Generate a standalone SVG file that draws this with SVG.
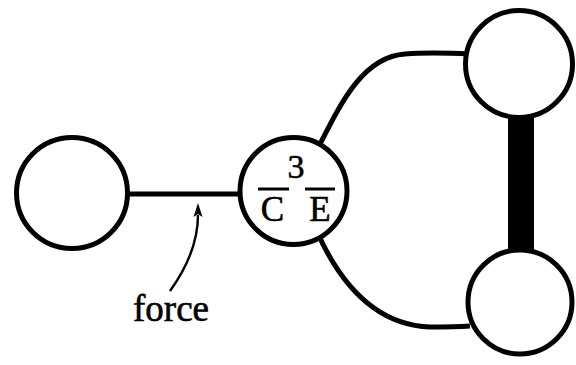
<svg xmlns="http://www.w3.org/2000/svg" width="576" height="365" viewBox="0 0 576 365">
<style>
.n{fill:#fff;stroke:#000;stroke-width:5}
.e{fill:none;stroke:#000;stroke-width:5}
.t{font-family:"Liberation Serif","Times New Roman",serif;fill:#000;stroke:#000;stroke-width:0.6}
.bar{stroke:#000;stroke-width:3}
</style>
<rect width="576" height="365" fill="#fff"/>
<g id="connectors">
<line class="e" x1="120" y1="194" x2="245" y2="194"/>
<path class="e" d="M318,148 C340,105 362,57 405,54 C430,52 450,53 470,54"/>
<path class="e" d="M318,234 C340,282 375,325 430,327 C445,327 455,327 470,326"/>
<rect x="508" y="110" width="26" height="150" fill="#000"/>
<path d="M170,291 Q198,252 198,215" fill="none" stroke="#000" stroke-width="2.4"/>
<path d="M198,203 L202.5,217 L198,214 L193.5,217 Z" fill="#000"/>
</g>
<g id="left"><circle class="n" cx="72" cy="193" r="55.5"/></g>
<g id="center"><circle class="n" cx="293.5" cy="191" r="53.5"/>
<text class="t" x="296" y="178" font-size="34" text-anchor="middle">3</text>
<text class="t" x="272.5" y="221" font-size="35" text-anchor="middle">C</text>
<text class="t" x="320" y="221" font-size="35" text-anchor="middle">E</text>
<line class="bar" x1="258" y1="189" x2="289" y2="189"/>
<line class="bar" x1="305" y1="189" x2="335" y2="189"/>
</g>
<g id="topright"><circle class="n" cx="519" cy="64" r="53.5"/></g>
<g id="bottomright"><circle class="n" cx="520" cy="302" r="52"/></g>
<g id="label"><text class="t" x="133" y="321" font-size="37">force</text></g>
</svg>
